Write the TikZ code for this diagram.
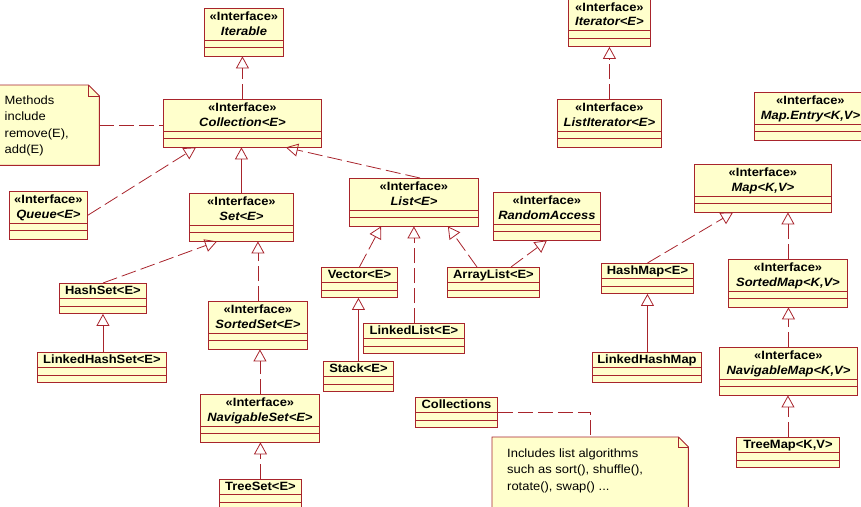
\documentclass[tikz,border=0pt]{standalone}
\usepackage{fontspec}
\setmainfont{Liberation Sans}[FakeStretch=1.08]
\usetikzlibrary{arrows.meta,calc}
\definecolor{umlred}{RGB}{168,36,44}
\definecolor{umlfill}{RGB}{255,255,204}
% interface box: name, left, top, width, type
\newcommand\umliface[5]{%
  \node[umlbox,minimum width=#4,minimum height=47.5,anchor=north west](#1)at(#2,#3){};
  \draw[umlline]([yshift=-32]#1.north west)--([yshift=-32]#1.north east)
    ([yshift=-39.5]#1.north west)--([yshift=-39.5]#1.north east);
  \node[umltext](#1-s)at([yshift=-12.9]#1.north){«Interface»};
  \node[umltext](#1-n)at([yshift=-27.3]#1.north){\textit{#5}};}
% class box: name, left, top, width, type
\newcommand\umlclass[5]{%
  \node[umlbox,minimum width=#4,minimum height=30,anchor=north west](#1)at(#2,#3){};
  \draw[umlline]([yshift=-15]#1.north west)--([yshift=-15]#1.north east)
    ([yshift=-23]#1.north west)--([yshift=-23]#1.north east);
  \node[umltext](#1-n)at([yshift=-11]#1.north){#5};}

\begin{document}
\begin{tikzpicture}[x=1pt,y=-1pt,
            umlbox/.style={draw=umlred,fill=umlfill,line width=0.9pt,inner sep=0pt},
            umlline/.style={draw=umlred,line width=0.9pt},
            umltext/.style={anchor=base,inner sep=0pt,font=\fontsize{12}{14}\selectfont\bfseries},
            notebox/.style={inner sep=0pt},
            notetext/.style={anchor=north west,align=left,inner sep=0pt,font=\fontsize{12}{16.4}\selectfont},
            solidlink/.style={draw=umlred,line width=0.8pt},
            dashedlink/.style={solidlink,dash pattern=on 15pt off 5pt},
            >={Triangle[open,length=12pt,width=13pt]}]
  \useasboundingbox(0,0)rectangle(861,506);
  % interfaces
  \umliface{iterable}{204}{8}{79}{Iterable}
  \umliface{collection}{163}{99}{158}{Collection<E>}
  \umliface{queue}{9}{191}{78}{Queue<E>}
  \umliface{set}{189}{193}{104}{Set<E>}
  \umliface{list}{349}{178}{129}{List<E>}
  \umliface{randomaccess}{493}{192}{107}{RandomAccess}
  \umliface{sortedset}{208}{301}{99}{SortedSet<E>}
  \umliface{navigableset}{200}{394}{119}{NavigableSet<E>}
  \umliface{iterator}{568}{-1.5}{82}{Iterator<E>}
  \umliface{listiterator}{557}{99}{104}{ListIterator<E>}
  \umliface{mapentry}{754}{92}{112}{Map.Entry<K,V>}
  \umliface{map}{694}{164}{137}{Map<K,V>}
  \umliface{sortedmap}{728}{259}{119}{SortedMap<K,V>}
  \umliface{navigablemap}{719}{347}{138}{NavigableMap<K,V>}
  % classes
  \umlclass{vector}{321}{267}{76}{Vector<E>}
  \umlclass{arraylist}{447}{267}{92}{ArrayList<E>}
  \umlclass{linkedlist}{363}{323}{101}{LinkedList<E>}
  \umlclass{stack}{323}{361}{70}{Stack<E>}
  \umlclass{hashset}{59}{283}{87}{HashSet<E>}
  \umlclass{linkedhashset}{37}{352}{129}{LinkedHashSet<E>}
  \umlclass{treeset}{219}{479}{82}{TreeSet<E>}
  \umlclass{hashmap}{601}{263}{92}{HashMap<E>}
  \umlclass{linkedhashmap}{592}{352}{109}{LinkedHashMap}
  \umlclass{treemap}{736}{437}{103}{TreeMap<K,V>}
  \umlclass{collections}{415}{397}{82}{Collections}
  % notes
  \node[notebox,minimum width=104,minimum height=80,anchor=north west](methodsnote)at(-5,85){};
  \draw[umlline,fill=umlfill](methodsnote.south west)--(methodsnote.north west)
    --([xshift=-11]methodsnote.north east)--([yshift=-11]methodsnote.north east)
    --(methodsnote.south east)--cycle;
  \draw[umlline,line width=0.5pt]([xshift=-11]methodsnote.north east)|-([yshift=-11]methodsnote.north east);
  \node[notetext](methodsnote-t)at(4.5,95.5){Methods\\include\\remove(E),\\add(E)};
  \node[notebox,minimum width=196,minimum height=83,anchor=north west](algonote)at(492,437){};
  \draw[umlline,fill=umlfill](algonote.south west)--(algonote.north west)
    --([xshift=-10]algonote.north east)--([yshift=-10]algonote.north east)
    --(algonote.south east)--cycle;
  \draw[umlline,line width=0.5pt]([xshift=-10]algonote.north east)|-([yshift=-10]algonote.north east);
  \node[notetext](algonote-t)at(507,448.5){Includes list algorithms\\such as sort(), shuffle(),\\rotate(), swap() ...};
  % links
  \draw[dashedlink,->](collection.north)--(collection.north|-iterable.south);
  \draw[dashedlink](methodsnote.east)--(methodsnote.east-|collection.west);
  \draw[dashedlink,->](queue.east)--([xshift=33]collection.south west);
  \draw[solidlink,->](set.north)--(set.north|-collection.south);
  \draw[dashedlink,->]([xshift=6]list.north)--([xshift=-36]collection.south east);
  \draw[dashedlink,->](hashset.north)--([xshift=28]set.south west);
  \draw[dashedlink,->](sortedset.north)--(sortedset.north|-set.south);
  \draw[solidlink,->](hashset.south|-linkedhashset.north)--(hashset.south);
  \draw[dashedlink,->](navigableset.north)--(navigableset.north|-sortedset.south);
  \draw[dashedlink,->](treeset.north)--(treeset.north|-navigableset.south);
  \draw[dashedlink,->](vector.north)--([xshift=32]list.south west);
  \draw[dashedlink,->](linkedlist.north)--(linkedlist.north|-list.south);
  \draw[dashedlink,->]([xshift=30]arraylist.north west)--([xshift=-31]list.south east);
  \draw[dashedlink,->]([xshift=64]arraylist.north west)--(randomaccess.south);
  \draw[solidlink,->](stack.north)--(stack.north|-vector.south);
  \draw[dashedlink,->](listiterator.north)--(listiterator.north|-iterator.south);
  \draw[dashedlink,->](hashmap.north)--([xshift=39]map.south west);
  \draw[solidlink,->](hashmap.south|-linkedhashmap.north)--(hashmap.south);
  \draw[dashedlink,->](sortedmap.north)--(sortedmap.north|-map.south);
  \draw[dashedlink,->](navigablemap.north)--(navigablemap.north|-sortedmap.south);
  \draw[dashedlink,->](treemap.north)--(treemap.north|-navigablemap.south);
  \draw[dashedlink](collections.east)-|(algonote.north);
\end{tikzpicture}
\end{document}
